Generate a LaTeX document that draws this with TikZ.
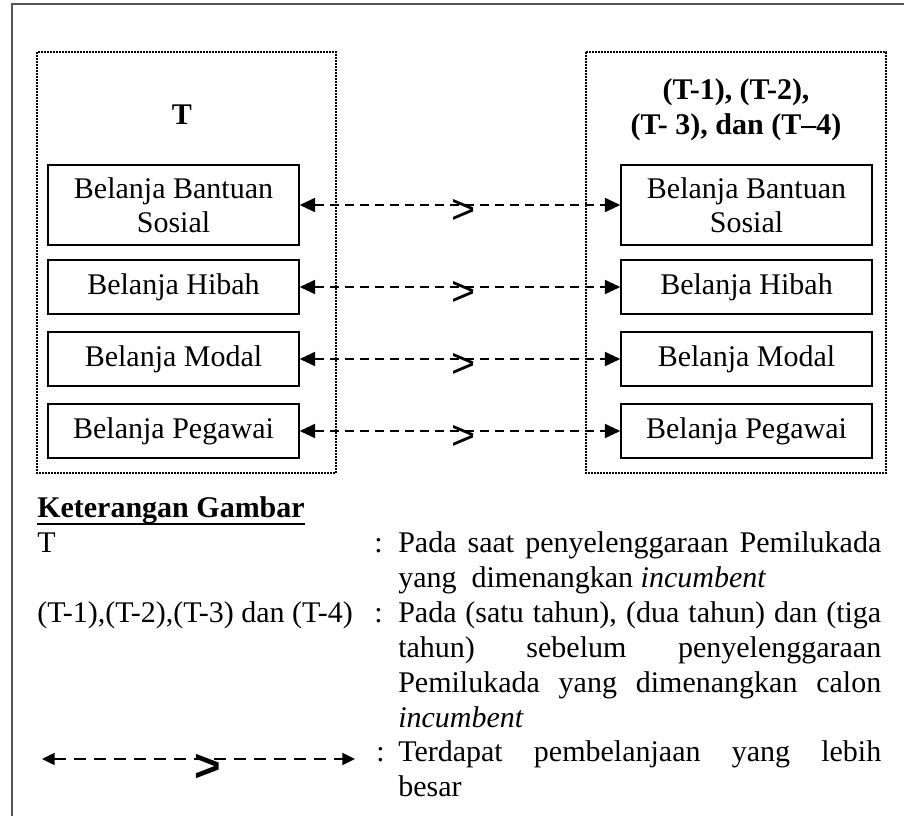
\documentclass[tikz,border=0pt]{standalone}
\usepackage{fontspec}
\setmainfont{Liberation Serif}
\newfontfamily\arialfont{Liberation Sans}
\usetikzlibrary{arrows.meta}
\definecolor{frame-gray}{RGB}{85,85,85}

\begin{document}
\begin{tikzpicture}[x=0.75pt,y=-0.75pt,
    every node/.style={font=\fontsize{22.5}{26.25}\selectfont},
    belanja/.style={draw=black, line width=1.1pt, minimum width=188.25pt, minimum height=40.5pt, inner sep=0pt, align=center, font=\fontsize{22.5}{25.5}\selectfont},
    groupbox/.style={line width=1.5pt, dash pattern=on 1.5pt off 0.75pt},
    compare/.style={line width=1.4pt, dash pattern=on 6.75pt off 4.5pt, {Triangle[length=11.5pt,width=10.5pt]}-{Triangle[length=11.5pt,width=10.5pt]}},
    keyarrow/.style={line width=1.6pt, dash pattern=on 9pt off 6pt, {Triangle[length=9.5pt,width=9pt]}-{Triangle[length=9.5pt,width=9pt]}},
    greater/.style={anchor=base, inner sep=0pt, yshift=-14pt, font=\arialfont\fontsize{31}{31}\selectfont},
    keytext/.style={anchor=base west, inner sep=0pt},
    keydesc/.style={anchor=base west, inner sep=0pt, text width=362.25pt, align=justify}]
\clip (0,0) rectangle (904,816);
\draw[line width=1.5pt, draw=frame-gray] (12,4) rectangle (920,830);

\draw[groupbox] (37,52) rectangle (336,473);
\draw[groupbox] (586,52) rectangle (886,473);

\node[font=\bfseries\fontsize{22.5}{26}\selectfont] (tNow) at (182,115) {T};
\node[align=center, font=\bfseries\fontsize{22.5}{26}\selectfont] (tPrev) at (736,110) {(T-1), (T-2),\\(T- 3), dan (T–4)};

\node[belanja, minimum height=60pt] (bsNow) at (173.5,205) {Belanja Bantuan\\Sosial};
\node[belanja] (hbNow) at (173.5,287) {Belanja Hibah};
\node[belanja] (mdNow) at (173.5,359) {Belanja Modal};
\node[belanja] (pgNow) at (173.5,431) {Belanja Pegawai};

\node[belanja, minimum height=60pt] (bsPrev) at (746.5,205) {Belanja Bantuan\\Sosial};
\node[belanja] (hbPrev) at (746.5,287) {Belanja Hibah};
\node[belanja] (mdPrev) at (746.5,359) {Belanja Modal};
\node[belanja] (pgPrev) at (746.5,431) {Belanja Pegawai};

\draw[compare] (bsNow) -- node[greater, pos=0.51] (gtBs) {>} (bsPrev);
\draw[compare] (hbNow) -- node[greater, pos=0.51] (gtHb) {>} (hbPrev);
\draw[compare] (mdNow) -- node[greater, pos=0.51] (gtMd) {>} (mdPrev);
\draw[compare] (pgNow) -- node[greater, pos=0.51] (gtPg) {>} (pgPrev);

\node[keytext, font=\bfseries\fontsize{22.5}{26}\selectfont] (keyTitle) at (37,518) {Keterangan Gambar};
\draw[line width=2pt] ([yshift=-4.5pt]keyTitle.base west) -- ([yshift=-4.5pt]keyTitle.base east);

\node[keytext] (keyT) at (37,553) {T};
\node[keytext] (colT) at (374,553) {:};
\node[keydesc] (descT) at (398,553) {Pada saat penyelenggaraan Pemilukada\linebreak yang\ \ dimenangkan \textit{incumbent}};

\node[keytext] (keyPrev) at (37,623) {(T-1),(T-2),(T-3) dan (T-4)};
\node[keytext] (colPrev) at (374,623) {:};
\node[keydesc] (descPrev) at (398,623) {Pada (satu tahun), (dua tahun) dan (tiga\linebreak tahun) sebelum penyelenggaraan\linebreak Pemilukada yang dimenangkan calon\linebreak \textit{incumbent}};

\coordinate (keyArrowL) at (42,759);
\coordinate (keyArrowR) at (355,759);
\draw[keyarrow] (keyArrowL) -- node[greater, pos=0.53, yshift=-2.6pt, font=\arialfont\bfseries\fontsize{34}{34}\selectfont] (gtKey) {>} (keyArrowR);
\node[keytext] (colArrow) at (376,761) {:};
\node[keydesc] (descArrow) at (398,761) {Terdapat pembelanjaan yang lebih\linebreak besar};
\end{tikzpicture}
\end{document}
